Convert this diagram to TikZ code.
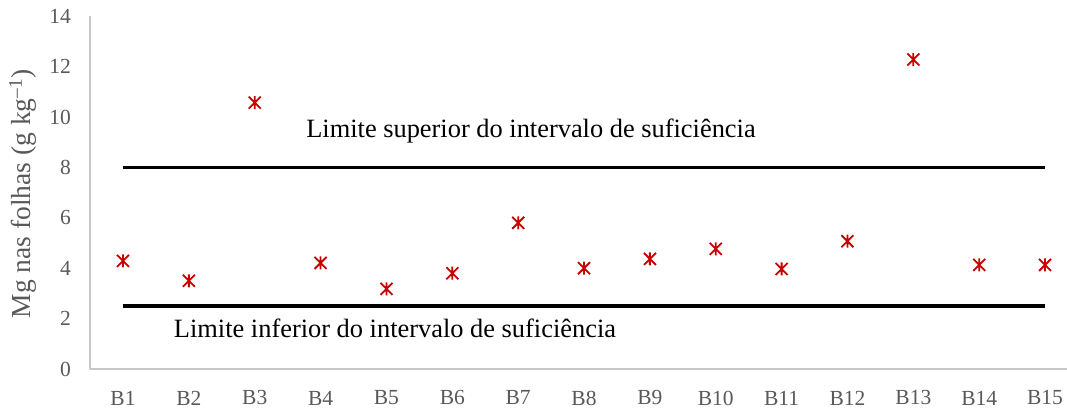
\documentclass[tikz,border=0pt]{standalone}
\usepackage{fontspec}
\setmainfont{Liberation Serif}
\usepackage{tikz}
\usetikzlibrary{calc}
\definecolor{ccqqqq}{rgb}{0.78,0.,0.}
\definecolor{sqsqsq}{rgb}{0.35,0.35,0.35}
\definecolor{bfbfbf}{rgb}{0.78,0.78,0.78}
\tikzstyle{every node}=[inner sep=0pt]
\tikzset{
  eixo/.style={line width=1.5pt,color=bfbfbf},
  limite/.style={line width=3.5pt,color=black},
  serie/.style={line width=1.8pt,color=ccqqqq},
  rotulo/.style={font=\fontsize{21.5}{25}\selectfont,color=sqsqsq},
  titulo/.style={font=\fontsize{27.5}{31}\selectfont,color=sqsqsq},
  legenda/.style={font=\fontsize{26.4}{30}\selectfont,color=black}
}
\begin{document}
\begin{tikzpicture}[line cap=butt,line join=round,x=65.86pt,y=25.2pt]
\useasboundingbox (-0.8676,-1.7063) rectangle (15.3332,14.6429);
% eixos
\coordinate (origem) at (0.5,0);
\draw [eixo] (0.5,14) -- (origem) -- (15.3332,0);
\foreach \y in {0,2,...,14}
  \node [rotulo,anchor=east,xshift=-19pt] (y\y) at (0.5,\y) {\y};
\foreach \i in {1,...,15}
  \node [rotulo] (b\i) at (\i,-1.15) {B\i};
\node [titulo,rotate=90] (tituloy) at (-0.52,6.95) {Mg nas folhas (g kg\textsuperscript{–1})};
% limites de suficiencia
\coordinate (sup1) at (1,8);
\coordinate (sup2) at (15,8);
\coordinate (inf1) at (1,2.5);
\coordinate (inf2) at (15,2.5);
\draw [limite] (sup1) -- (sup2);
\draw [limite] (inf1) -- (inf2);
\node [legenda] (textosup) at (7.195,9.44) {Limite superior do intervalo de suficiência};
\node [legenda] (textoinf) at (5.13,1.63) {Limite inferior do intervalo de suficiência};
% teores de Mg
\foreach \i/\v in {1/4.29,2/3.5,3/10.57,4/4.21,5/3.18,6/3.8,7/5.8,8/4.0,9/4.37,10/4.77,11/3.97,12/5.07,13/12.28,14/4.13,15/4.13}
{
  \coordinate (p\i) at (\i,\v);
  \draw [serie] (p\i) ++(-6pt,-6pt) -- ++(12pt,12pt) ++(-12pt,0) -- ++(12pt,-12pt)
    (p\i) ++(0,-6.5pt) -- ++(0,13pt);
}
\end{tikzpicture}
\end{document}
